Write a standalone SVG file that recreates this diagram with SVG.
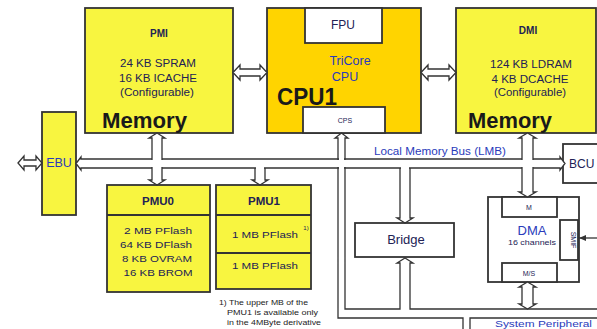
<svg xmlns="http://www.w3.org/2000/svg" width="597" height="329" viewBox="0 0 597 329">
<style>
.box{stroke:#333;stroke-width:1.8}
.yel{fill:#F8F540}
.cpu{fill:#FFD400}
.wht{fill:#fff}
.ln{fill:none;stroke:#333;stroke-width:1.3}
.ha{fill:#fff;stroke:#333;stroke-width:1.3}
.t{font-family:"Liberation Sans",Arial,sans-serif;fill:#222255;text-anchor:middle}
.b{font-weight:bold}
.big{font-family:"Liberation Sans",Arial,sans-serif;font-weight:bold;fill:#1a1a1a}
.blue{fill:#2a3bbb}
</style>
<defs>
<marker id="ah" markerWidth="8" markerHeight="8" refX="7" refY="4" orient="auto" markerUnits="userSpaceOnUse">
<path d="M0,1 L7,4 L0,7 z" fill="#333"/>
</marker>
</defs>

<g id="PMI">
<rect class="box yel" x="85" y="8" width="148" height="125"/>
<text class="t b" x="159" y="37" font-size="10">PMI</text>
<text class="t" x="158" y="67" font-size="10" textLength="76" lengthAdjust="spacingAndGlyphs">24 KB SPRAM</text>
<text class="t" x="158" y="82" font-size="10" textLength="78" lengthAdjust="spacingAndGlyphs">16 KB ICACHE</text>
<text class="t" x="157" y="96" font-size="10" textLength="74" lengthAdjust="spacingAndGlyphs">(Configurable)</text>
<text class="big" x="102" y="128" font-size="22" textLength="85" lengthAdjust="spacingAndGlyphs">Memory</text>
</g>

<g id="CPU1">
<rect class="box cpu" x="267" y="8" width="154" height="125"/>
<rect class="box wht" x="305" y="8" width="77" height="35"/>
<text class="t" x="343" y="29" font-size="12">FPU</text>
<text class="t blue" x="350" y="65" font-size="12.5">TriCore</text>
<text class="t blue" x="345" y="81" font-size="12.5">CPU</text>
<text class="big" x="277" y="105" font-size="23" textLength="60" lengthAdjust="spacingAndGlyphs">CPU1</text>
<rect class="box wht" x="303" y="107" width="82" height="26"/>
<text class="t" x="345" y="123" font-size="7">CPS</text>
</g>

<g id="DMI">
<rect class="box yel" x="456" y="8" width="140" height="125"/>
<text class="t b" x="528" y="34" font-size="10">DMI</text>
<text class="t" x="531" y="68" font-size="10" textLength="82" lengthAdjust="spacingAndGlyphs">124 KB LDRAM</text>
<text class="t" x="530" y="83" font-size="10" textLength="77" lengthAdjust="spacingAndGlyphs">4 KB DCACHE</text>
<text class="t" x="530" y="96" font-size="10" textLength="72" lengthAdjust="spacingAndGlyphs">(Configurable)</text>
<text class="big" x="468" y="128" font-size="22" textLength="84" lengthAdjust="spacingAndGlyphs">Memory</text>
</g>

<g id="EBU">
<rect class="box yel" x="42" y="112" width="34" height="103"/>
<text class="t blue" x="59" y="167" font-size="12.5">EBU</text>
</g>

<g id="BCU">
<rect class="box wht" x="563" y="144" width="40" height="39"/>
<text class="t" x="569" y="168" font-size="12" style="text-anchor:start">BCU</text>
</g>

<g id="PMU0">
<rect class="box yel" x="107" y="185" width="103" height="107"/>
<line class="box" x1="107" y1="215" x2="210" y2="215"/>
<text class="t b" x="158" y="205" font-size="11.5">PMU0</text>
<text class="t" x="158" y="234" font-size="9.5" textLength="68" lengthAdjust="spacingAndGlyphs">2 MB PFlash</text>
<text class="t" x="156" y="248" font-size="9.5" textLength="72" lengthAdjust="spacingAndGlyphs">64 KB DFlash</text>
<text class="t" x="157" y="262" font-size="9.5" textLength="70" lengthAdjust="spacingAndGlyphs">8 KB OVRAM</text>
<text class="t" x="158" y="276" font-size="9.5" textLength="69" lengthAdjust="spacingAndGlyphs">16 KB BROM</text>
</g>

<g id="PMU1">
<rect class="box yel" x="216" y="185" width="95" height="104"/>
<line class="box" x1="216" y1="215" x2="311" y2="215"/>
<line class="box" x1="216" y1="253" x2="311" y2="253"/>
<text class="t b" x="264" y="205" font-size="11.5">PMU1</text>
<text class="t" x="265" y="238" font-size="9.5" textLength="66" lengthAdjust="spacingAndGlyphs">1 MB PFlash</text>
<text class="t" x="306" y="230" font-size="6">1)</text>
<text class="t" x="265" y="269" font-size="9.5" textLength="66" lengthAdjust="spacingAndGlyphs">1 MB PFlash</text>
</g>

<g id="footnote">
<text class="t" x="219" y="305" font-size="7.5" style="text-anchor:start;fill:#222" textLength="89" lengthAdjust="spacingAndGlyphs">1) The upper MB of the</text>
<text class="t" x="227" y="315" font-size="7.5" style="text-anchor:start;fill:#222" textLength="91" lengthAdjust="spacingAndGlyphs">PMU1 is available only</text>
<text class="t" x="227" y="325" font-size="7.5" style="text-anchor:start;fill:#222" textLength="94" lengthAdjust="spacingAndGlyphs">in the 4MByte derivative</text>
</g>

<g id="Bridge">
<rect class="box wht" x="355" y="223" width="99" height="34"/>
<text class="t" x="406" y="244" font-size="13">Bridge</text>
</g>

<g id="DMA">
<rect class="box wht" x="488" y="197" width="91" height="85"/>
<rect class="box wht" x="502" y="197" width="55" height="20"/>
<rect class="box wht" x="502" y="263" width="55" height="19"/>
<rect class="box wht" x="560" y="220" width="18" height="40"/>
<text class="t blue" x="532" y="235" font-size="13">DMA</text>
<text class="t" x="532" y="245" font-size="8" textLength="48" lengthAdjust="spacingAndGlyphs">16 channels</text>
<text class="t" x="529" y="210" font-size="7">M</text>
<text class="t" x="529" y="276" font-size="7">M/S</text>
<text class="t" x="0" y="0" font-size="7" transform="translate(571,240) rotate(90)">SMIF</text>
</g>

<g id="connectors">
<polygon class="ha" points="233,72.5 240,65 240,69 260,69 260,65 267,72.5 260,80 260,76 240,76 240,80"/>
<polygon class="ha" points="421,72.5 428,65 428,69 449,69 449,65 456,72.5 449,80 449,76 428,76 428,80"/>
<polygon class="ha" points="18,163 24,156 24,160 36,160 36,156 42,163 36,170 36,166 24,166 24,170"/>
<polygon class="ha" points="76,163.5 81,157 81,159 560,159 560,157 565,163.5 560,170 560,168 81,168 81,170"/>
<polygon class="ha" points="157,133 165,138 162,138 162,180 165,180 157,185 149,180 152,180 152,138 149,138"/>
<polygon class="ha" points="527.5,133 536,138 533,138 533,192 536,192 527.5,197 519,192 522,192 522,138 519,138"/>
<path class="ln" d="M255,168 V180 H252 L260,185 L268,180 H265 V168"/>
<path class="ln" d="M400,168 V218 H397 L405,223 L413,218 H410 V168"/>
<path class="ln" d="M463,329 V318 H338 V138 H335 L341.5,133 L348,138 H345 V309 H400 V263 H397 L405,258 L413,263 H410 V309 H597"/>
<path class="ln" d="M597,318 H470 V329"/>
<polygon class="ha" points="527.5,282 536,287 533,287 533,304 536,304 527.5,309 519,304 522,304 522,287 519,287"/>
<line class="ln" x1="597" y1="238" x2="579" y2="238" marker-end="url(#ah)"/>
<g fill="#fff">
<rect x="153" y="157.5" width="8" height="12"/>
<rect x="150.5" y="160" width="13" height="7"/>
<rect x="339" y="157.5" width="5" height="12"/>
<rect x="336.5" y="160" width="10" height="7"/>
<rect x="523" y="157.5" width="9" height="12"/>
<rect x="520.5" y="160" width="14" height="7"/>
<rect x="256" y="166" width="8" height="4"/>
<rect x="401" y="166" width="8" height="4"/>
</g>
</g>
<text class="t blue" x="440" y="155" font-size="10" textLength="132" lengthAdjust="spacingAndGlyphs">Local Memory Bus (LMB)</text>
<text class="t blue" x="495" y="327" font-size="9.5" style="text-anchor:start" textLength="97" lengthAdjust="spacingAndGlyphs">System Peripheral</text>
</svg>
